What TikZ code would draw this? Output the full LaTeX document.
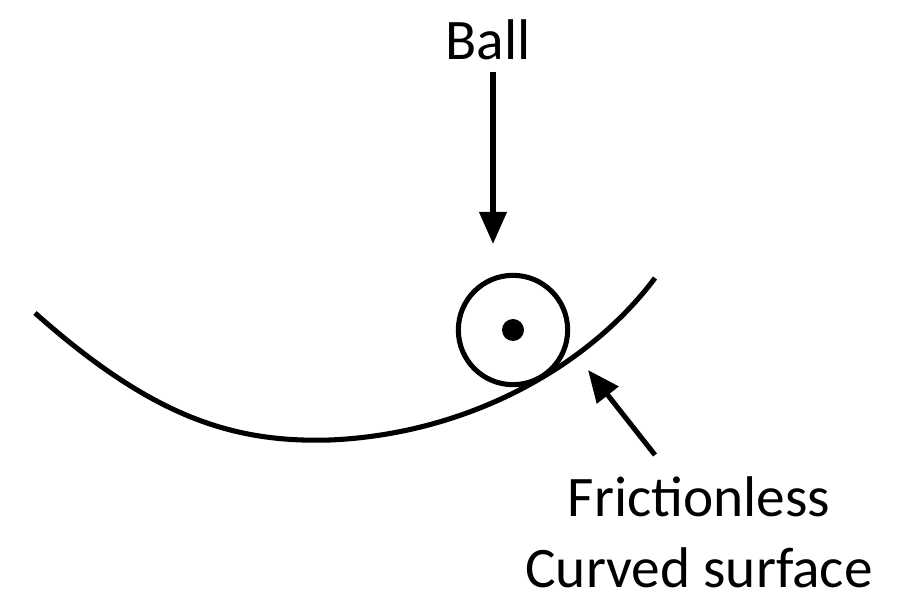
\documentclass[tikz,border=0pt]{standalone}
\usepackage{fontspec}
\setmainfont{Carlito}
\usetikzlibrary{arrows.meta}
\begin{document}
\begin{tikzpicture}[x=0.75pt,y=0.75pt,yscale=-1,xscale=1,
  lbl/.style={inner sep=0pt,font=\fontsize{43}{47}\selectfont},
  pointer/.style={line width=3.8pt,-{Triangle[length=24pt,width=20pt]}}]
\useasboundingbox (0,0) rectangle (900,609);

%Surface
\draw [line width=3.8pt] (35,313) .. controls (150,415) and (230,443) .. (330,440) .. controls (470,434) and (590,365) .. (655,278);
%Ball
\node (ball) [circle,draw,line width=3.8pt,minimum size=82pt,inner sep=0pt] at (513,330) {};
\fill (ball.center) circle [radius=11];

% Text Node
\node (balllbl) [lbl] at (488,40) {Ball};
\coordinate (balltip) at (493,244);
\draw [pointer] (493,72) -- (balltip);
% Text Node
\node (fric) [lbl] at (699,497) {Frictionless};
\node (curv) [lbl] at (699,568) {Curved surface};
\coordinate (surftip) at (588,370);
\draw [pointer] (655,455) -- (surftip);
\end{tikzpicture}
\end{document}
